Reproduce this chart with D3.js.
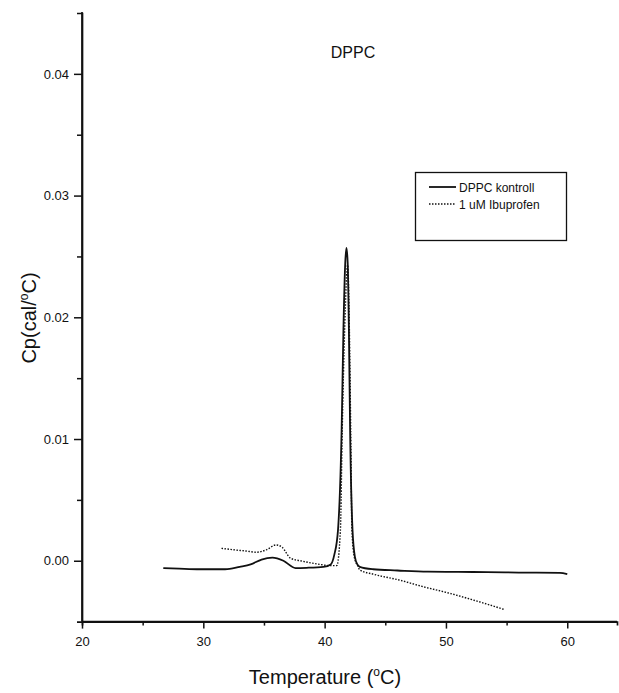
<!DOCTYPE html>
<html>
<head>
<meta charset="utf-8">
<script src="https://cdn.jsdelivr.net/npm/d3@7"></script>
<style>
  body { margin: 0; background: #fff; }
  text { font-family: "Liberation Sans", Arial, sans-serif; fill: #111; }
</style>
</head>
<body>
<div id="chart"></div>
<script>
const width = 619;
const height = 693;

// DPPC kontroll (solid)
const controlT  = [26.7, 28.0, 29.7, 31.8, 33.0, 33.9, 34.8, 35.7, 36.6, 37.6, 38.5, 39.9, 40.5, 40.8, 41.1, 41.4, 41.55, 41.7, 41.8, 41.9, 42.0, 42.1, 42.3, 42.5, 42.7, 42.9, 44.0, 46.0, 48.5, 51.0, 53.4, 56.0, 59.4, 60.0];
const controlCp = [-0.0006, -0.00065, -0.0007, -0.0007, -0.0005, -0.0003, 0.0001, 0.00025, 0.0000, -0.0006, -0.00058, -0.0005, -0.0003, 0.0005, 0.0025, 0.0107, 0.019, 0.0245, 0.0257, 0.0245, 0.019, 0.0107, 0.0025, 0.0003, -0.0003, -0.0005, -0.0007, -0.0008, -0.0009, -0.00092, -0.00093, -0.00097, -0.001, -0.0011];

// 1 uM Ibuprofen (dotted)
const ibuT  = [31.5, 32.5, 33.5, 34.4, 35.2, 36.0, 36.5, 37.2, 38.0, 39.0, 39.6, 40.4, 41.0, 41.3, 41.45, 41.65, 41.9, 42.04, 42.15, 42.25, 42.45, 42.77, 42.9, 44.0, 46.2, 48.0, 50.4, 52.5, 54.8];
const ibuCp = [0.00102, 0.0009, 0.0008, 0.0007, 0.0009, 0.0013, 0.0011, 0.0002, 0.0000, -0.0002, -0.0003, -0.0004, -0.0004, 0.0025, 0.0107, 0.019, 0.0243, 0.019, 0.0107, 0.0025, 0.0003, -0.0005, -0.00076, -0.0011, -0.0016, -0.0021, -0.0027, -0.0033, -0.0040];

const xMajor = [20, 30, 40, 50, 60];
const xMinor = [25, 35, 45, 55];
const yMajor = [0.00, 0.01, 0.02, 0.03, 0.04];
const yMinor = [0.005, 0.015, 0.025, 0.035];
const seriesNames = ["DPPC kontroll", "1 uM Ibuprofen"];

const svg = d3.select("#chart").append("svg")
    .attr("width", width)
    .attr("height", height);

const x = d3.scaleLinear().domain([20, 64.1]).range([82, 617]);
const y = d3.scaleLinear().domain([-0.005, 0.045]).range([621.6, 13]);

// axes
const xAxis = svg.append("g").attr("transform", `translate(0,${y(-0.005)})`);
xAxis.call(d3.axisBottom(x).tickValues(xMajor).tickSize(7).tickPadding(8).tickFormat(d3.format("d")));
xAxis.append("g").call(d3.axisBottom(x).tickValues(xMinor).tickSize(4).tickFormat(""));

const yAxis = svg.append("g").attr("transform", `translate(${x(20)},0)`);
yAxis.call(d3.axisLeft(y).tickValues(yMajor).tickSize(8).tickPadding(5).tickFormat(d3.format(".2f")));
yAxis.append("g").call(d3.axisLeft(y).tickValues(yMinor).tickSize(5).tickFormat(""));

svg.selectAll(".domain").attr("stroke", "#111").attr("stroke-width", 1.7);
svg.selectAll(".tick line").attr("stroke", "#111").attr("stroke-width", 1.5);
svg.selectAll(".tick text").style("font-size", "13px").attr("fill", "#111");
// extend the lines to the corners
xAxis.select(".domain").attr("d", `M${x(20)},0H${x(64.1)}`);
yAxis.select(".domain").attr("d", `M0,${y(-0.005)}V12`);

// curves
const line = d3.line()
    .x(d => x(d[0]))
    .y(d => y(d[1]))
    .curve(d3.curveMonotoneX);

svg.append("path")
    .datum(controlT.map((t, i) => [t, controlCp[i]]))
    .attr("d", line)
    .attr("fill", "none")
    .attr("stroke", "#111")
    .attr("stroke-width", 1.8);

svg.append("path")
    .datum(ibuT.map((t, i) => [t, ibuCp[i]]))
    .attr("d", line)
    .attr("fill", "none")
    .attr("stroke", "#111")
    .attr("stroke-width", 1.4)
    .attr("stroke-dasharray", "1.5,1.5");

// title
svg.append("text")
    .attr("x", 353).attr("y", 58)
    .attr("text-anchor", "middle")
    .style("font-size", "16px")
    .text("DPPC");

// axis titles
const xt = svg.append("text")
    .attr("x", 325).attr("y", 684)
    .attr("text-anchor", "middle")
    .style("font-size", "20px");
xt.append("tspan").text("Temperature (");
xt.append("tspan").attr("dy", -8).style("font-size", "12px").text("o");
xt.append("tspan").attr("dy", 8).text("C)");

const yt = svg.append("text")
    .attr("transform", "translate(36,318) rotate(-90)")
    .attr("text-anchor", "middle")
    .style("font-size", "20px");
yt.append("tspan").text("Cp(cal/");
yt.append("tspan").attr("dy", -8).style("font-size", "12px").text("o");
yt.append("tspan").attr("dy", 8).text("C)");

// legend
const legend = svg.append("g");
legend.append("rect")
    .attr("x", 415.5).attr("y", 172.5)
    .attr("width", 151).attr("height", 68)
    .attr("fill", "#fff")
    .attr("stroke", "#111")
    .attr("stroke-width", 1.3);

seriesNames.forEach((name, i) => {
    const ly = 187 + i * 17;
    legend.append("line")
        .attr("x1", 429).attr("x2", 456)
        .attr("y1", ly).attr("y2", ly)
        .attr("stroke", "#111")
        .attr("stroke-width", i === 0 ? 1.8 : 1.3)
        .attr("stroke-dasharray", i === 0 ? null : "1.5,1.5");
    legend.append("text")
        .attr("x", 459).attr("y", ly + 4.5)
        .style("font-size", "12px")
        .text(name);
});
</script>
</body>
</html>
